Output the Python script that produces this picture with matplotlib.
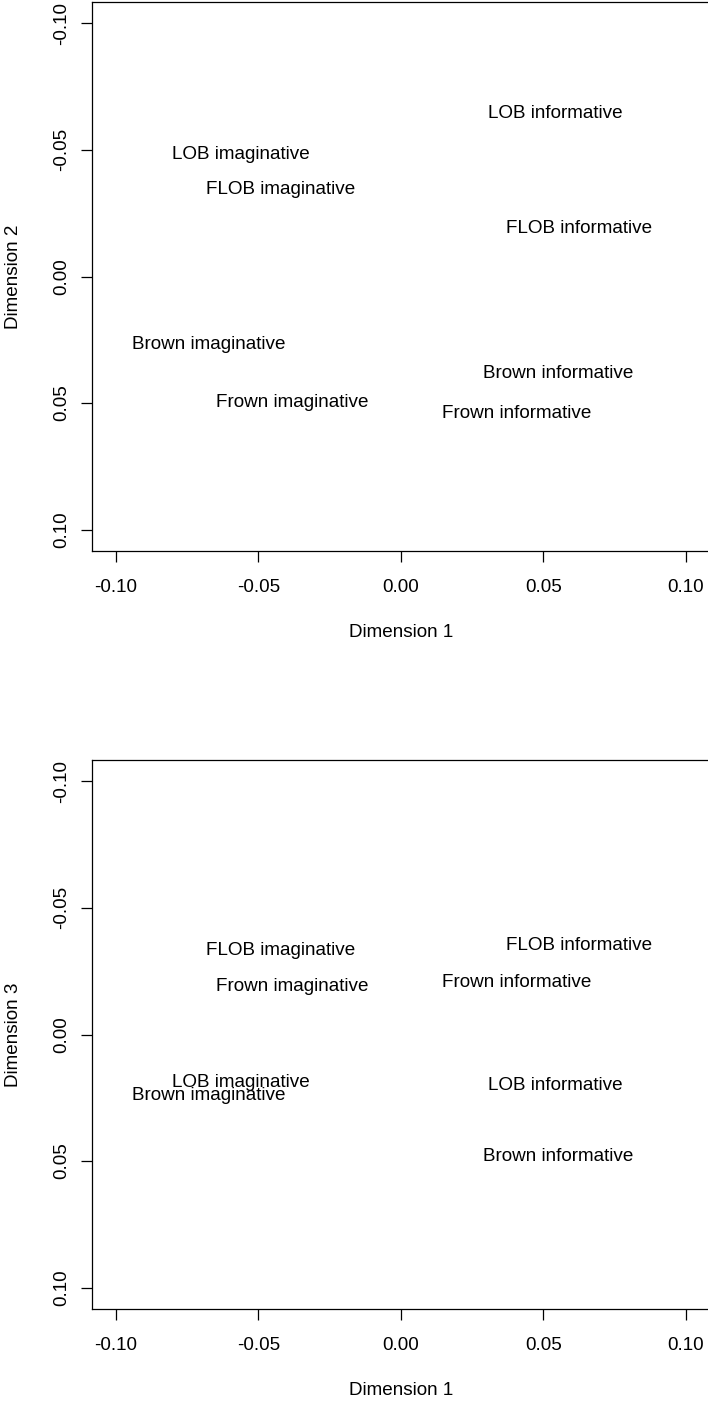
import numpy as np
from matplotlib import pyplot as plt

plt.rcParams["font.family"] = ["Liberation Sans", "DejaVu Sans"]

labels = ["LOB imaginative", "FLOB imaginative", "Brown imaginative", "Frown imaginative",
          "LOB informative", "FLOB informative", "Brown informative", "Frown informative"]
dim1 = [-0.0562, -0.0422, -0.0675, -0.0380, 0.0541, 0.0625, 0.0552, 0.0408]
dim2 = [-0.0488, -0.0350, 0.0260, 0.0488, -0.0650, -0.0197, 0.0374, 0.0535]
dim3 = [0.0181, -0.0339, 0.0232, -0.0197, 0.0193, -0.0358, 0.0472, -0.0213]

ticks = [-0.10, -0.05, 0.00, 0.05, 0.10]
lim = 0.1084
fs = 13.6

W, H = 708, 1402
fig = plt.figure(figsize=(W / 100, H / 100), dpi=100)


def panel(top_px, bottom_px, ydata, ylabel):
    ax = fig.add_axes([92 / W, 1 - bottom_px / H, (709.5 - 92) / W, (bottom_px - top_px) / H])
    for lab, x, y in zip(labels, dim1, ydata):
        ax.text(x, y, lab, ha="center", va="center_baseline", fontsize=fs)
    ax.set_xlim(-lim, lim)
    ax.set_ylim(lim, -lim)
    ax.set_xticks(ticks)
    ax.set_yticks(ticks)
    ax.set_xticklabels([f"{t:.2f}" for t in ticks])
    ax.set_yticklabels([f"{t:.2f}" for t in ticks], rotation=90, va="center")
    ax.tick_params(direction="out", length=8, width=0.9, labelsize=fs, pad=12)
    ax.tick_params(axis="y", pad=8)
    for s in ax.spines.values():
        s.set_linewidth(0.9)
    ax.set_xlabel("Dimension 1", fontsize=fs, labelpad=20)
    ax.set_ylabel(ylabel, fontsize=fs, labelpad=22)
    return ax


panel(2, 551, dim2, "Dimension 2")
panel(760, 1309, dim3, "Dimension 3")

fig.savefig("out.png", dpi=100)
